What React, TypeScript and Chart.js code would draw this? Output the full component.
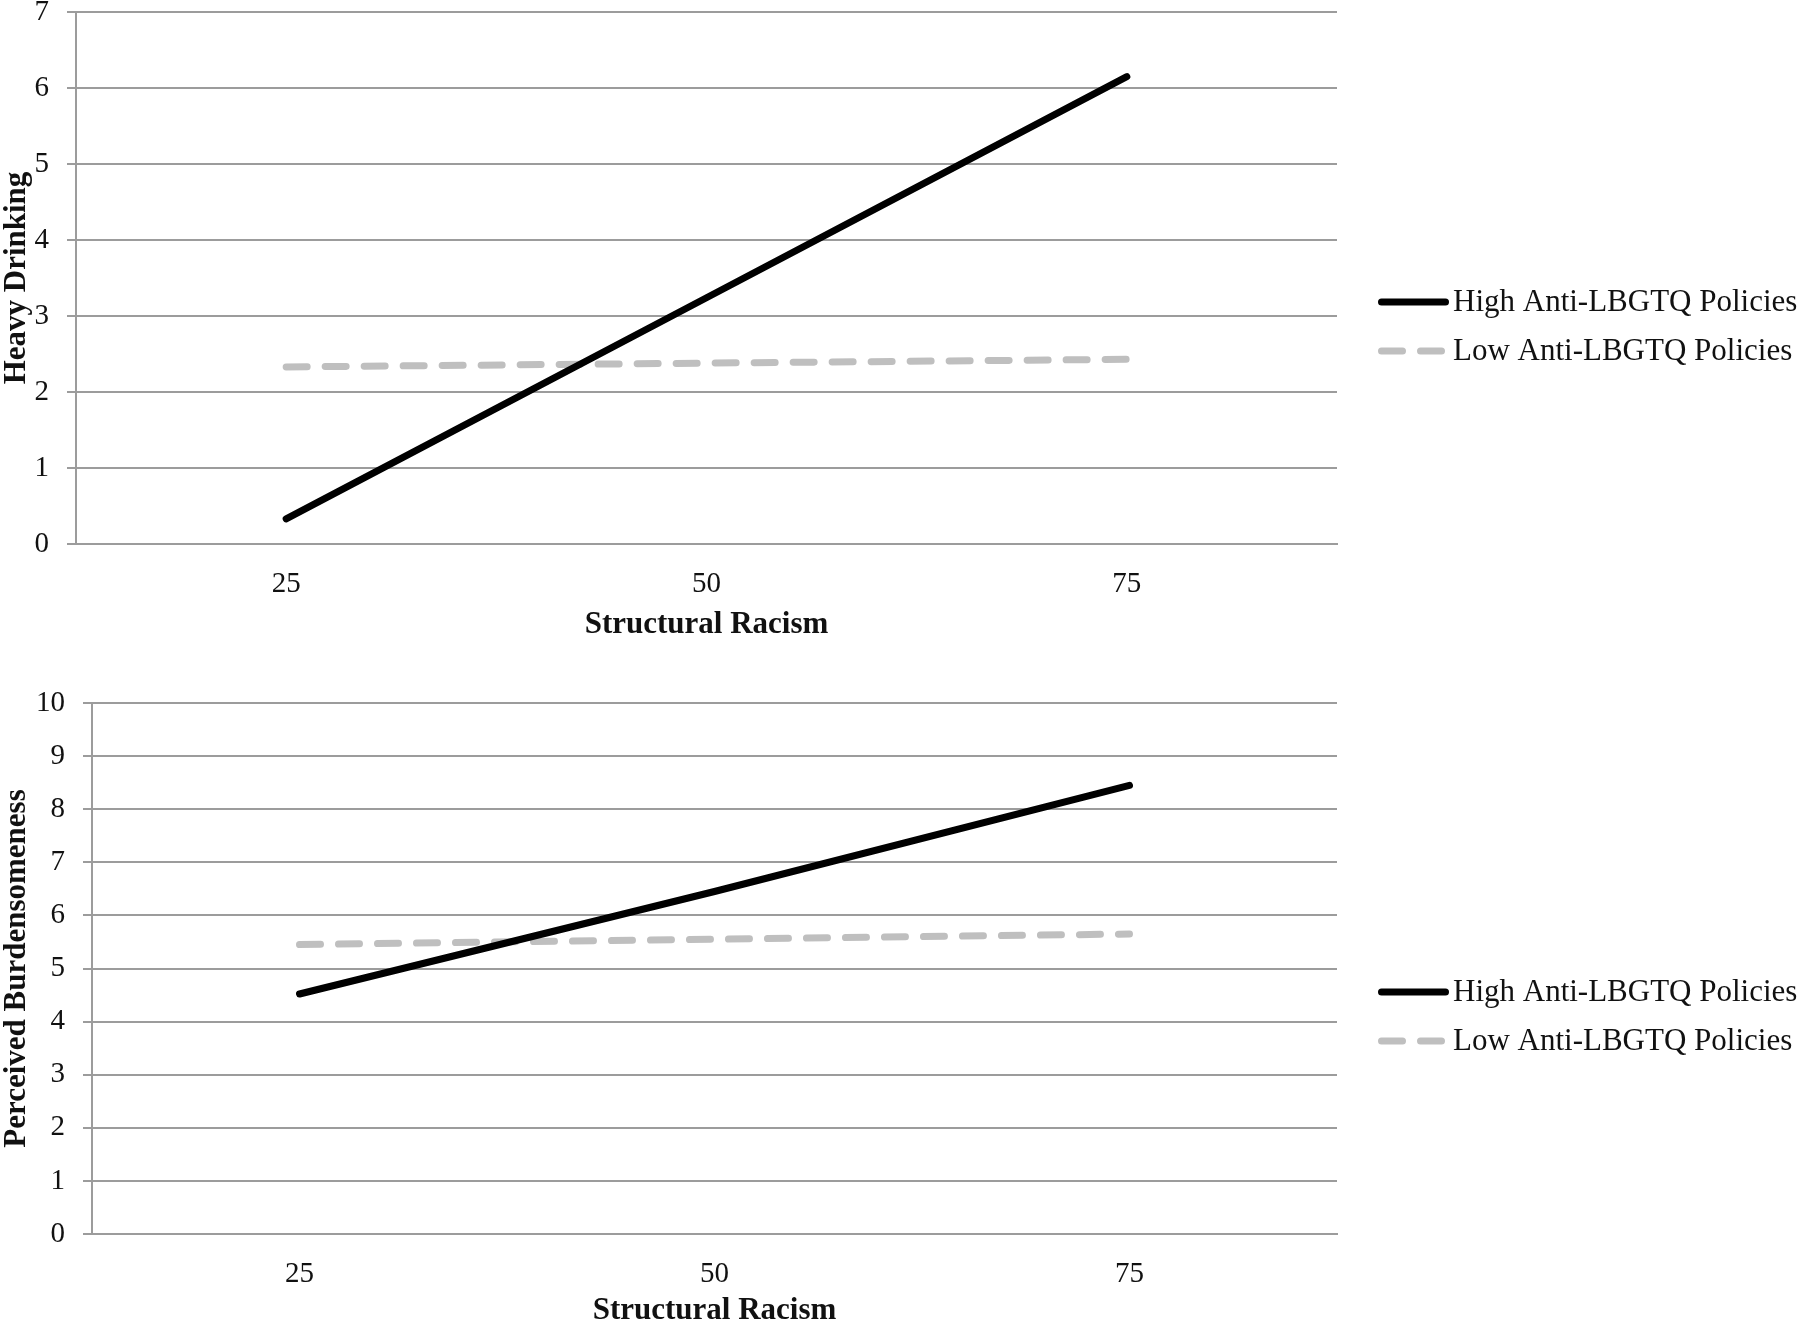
import React, { useEffect, useRef } from 'react';
import { Chart, registerables } from 'chart.js';

Chart.register(...registerables);

const categories = ['25', '50', '75'];
const seriesLabels = ['High Anti-LBGTQ Policies', 'Low Anti-LBGTQ Policies'];
const xAxisTitle = 'Structural Racism';

const drinkingTitle = 'Heavy Drinking';
const drinkingHigh = [0.33, 3.24, 6.15];
const drinkingLow = [2.33, 2.38, 2.43];
const drinkingMax = 7;

const burdenTitle = 'Perceived Burdensomeness';
const burdenHigh = [4.52, 6.45, 8.45];
const burdenLow = [5.45, 5.55, 5.65];
const burdenMax = 10;

const FONT = "'Liberation Serif', 'Times New Roman', serif";
const TEXT = '#111111';
const GRID = '#9c9c9c';
const BLACK = '#000000';
const GREY = '#bfbfbf';
const DASH = [21, 18];

const legendPlugin = {
  id: 'customLegend',
  afterDraw(chart: any) {
    const { ctx, chartArea } = chart;
    ctx.save();
    chart.data.datasets.forEach((ds: any, i: number) => {
      const y = chartArea.bottom - 242 + i * 49;
      const x0 = chartArea.right + 44.5;
      const x1 = chartArea.right + 108.5;
      ctx.beginPath();
      ctx.lineWidth = ds.borderWidth;
      ctx.strokeStyle = ds.borderColor;
      ctx.lineCap = 'round';
      ctx.setLineDash(ds.borderDash || []);
      ctx.moveTo(x0, y);
      ctx.lineTo(i === 0 ? x1 : x0 + 62, y);
      ctx.stroke();
      ctx.setLineDash([]);
      ctx.fillStyle = TEXT;
      ctx.font = `31px ${FONT}`;
      ctx.textBaseline = 'middle';
      ctx.textAlign = 'left';
      ctx.fillText(ds.label, chartArea.right + 116, y + 1);
    });
    ctx.restore();
  },
};

type Spec = {
  height: number;
  yTitle: string;
  high: number[];
  low: number[];
  yMax: number;
  yWidth: number;
  padTop: number;
  xHeight: number;
  xTitlePad: number;
};

function LineChart({ spec }: { spec: Spec }) {
  const ref = useRef<HTMLCanvasElement>(null);
  useEffect(() => {
    if (!ref.current) return;
    const chart = new Chart(ref.current, {
      type: 'line',
      data: {
        labels: categories,
        datasets: [
          {
            label: seriesLabels[0],
            data: spec.high,
            borderColor: BLACK,
            backgroundColor: BLACK,
            borderWidth: 7,
            borderCapStyle: 'round',
            borderJoinStyle: 'round',
            pointRadius: 0,
            tension: 0,
          },
          {
            label: seriesLabels[1],
            data: spec.low,
            borderColor: GREY,
            backgroundColor: GREY,
            borderWidth: 7,
            borderDash: DASH,
            borderCapStyle: 'round',
            borderJoinStyle: 'round',
            pointRadius: 0,
            tension: 0,
          },
        ],
      },
      options: {
        responsive: false,
        animation: false,
        layout: { padding: { left: 0, right: 463, top: spec.padTop, bottom: 0 } },
        plugins: { legend: { display: false }, tooltip: { enabled: false } },
        scales: {
          x: {
            type: 'category',
            offset: true,
            grid: { display: false, drawTicks: false },
            border: { display: true, color: GRID, width: 2 },
            ticks: { color: TEXT, font: { family: FONT, size: 29 }, padding: 23 },
            title: {
              display: true,
              text: xAxisTitle,
              color: TEXT,
              font: { family: FONT, size: 31, weight: 'bold', lineHeight: 1 },
              padding: { top: 0, bottom: spec.xTitlePad },
            },
            afterFit: (s: any) => {
              s.height = spec.xHeight;
              s.paddingLeft = 0;
              s.paddingRight = 0;
            },
          },
          y: {
            min: 0,
            max: spec.yMax,
            grid: { color: GRID, lineWidth: 2, drawTicks: true, tickLength: 9, tickColor: GRID },
            border: { display: true, color: GRID, width: 2 },
            ticks: { stepSize: 1, color: TEXT, font: { family: FONT, size: 29 }, padding: 18 },
            title: {
              display: true,
              text: spec.yTitle,
              color: TEXT,
              font: { family: FONT, size: 31, weight: 'bold', lineHeight: 1 },
              padding: { top: 1, bottom: 0 },
            },
            afterFit: (s: any) => {
              s.width = spec.yWidth;
              s.paddingTop = 0;
              s.paddingBottom = 0;
            },
          },
        },
      },
      plugins: [legendPlugin],
    } as any);
    return () => chart.destroy();
  }, [spec]);
  return <canvas ref={ref} width={1800} height={spec.height} style={{ display: 'block', width: 1800, height: spec.height }} />;
}

const topSpec: Spec = {
  height: 650,
  yTitle: drinkingTitle,
  high: drinkingHigh,
  low: drinkingLow,
  yMax: drinkingMax,
  yWidth: 76,
  padTop: 12,
  xHeight: 106,
  xTitlePad: 10,
};

const bottomSpec: Spec = {
  height: 676,
  yTitle: burdenTitle,
  high: burdenHigh,
  low: burdenLow,
  yMax: burdenMax,
  yWidth: 92,
  padTop: 53,
  xHeight: 92,
  xTitlePad: 0,
};

export default function App() {
  return (
    <div style={{ position: 'absolute', left: 0, top: 0, width: 1800, height: 1326, background: '#ffffff' }}>
      <LineChart spec={topSpec} />
      <LineChart spec={bottomSpec} />
    </div>
  );
}
